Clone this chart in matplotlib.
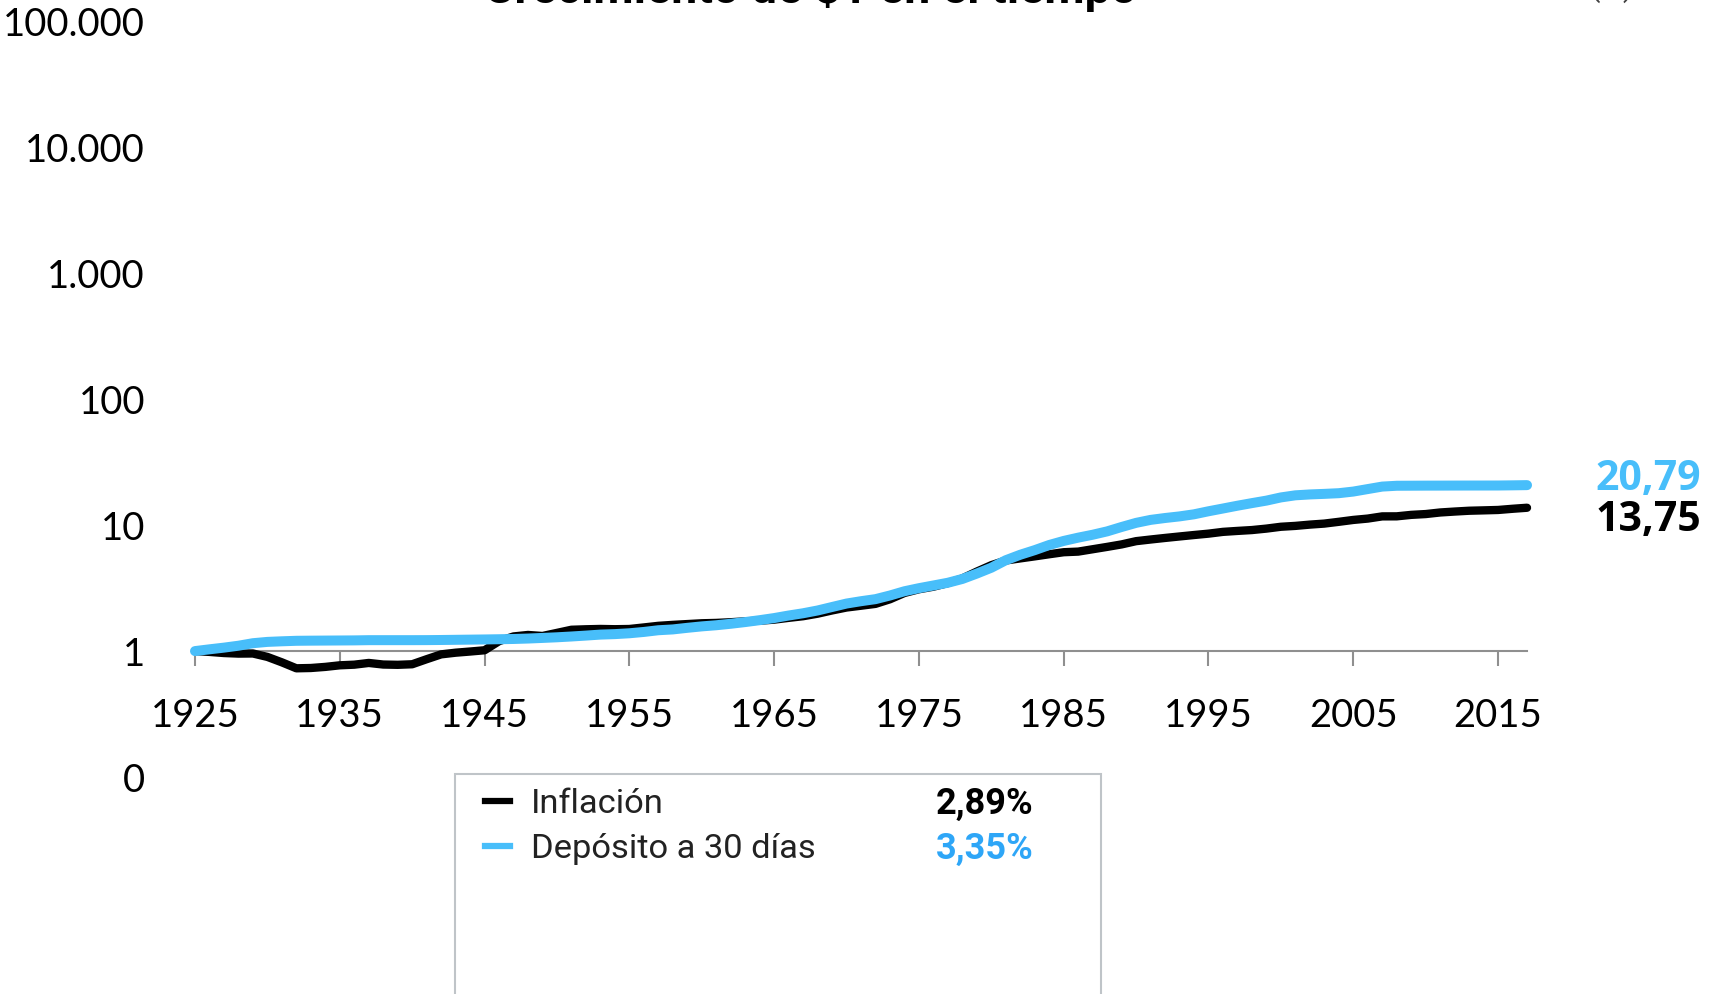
import matplotlib
matplotlib.use("Agg")
import matplotlib.pyplot as plt
from matplotlib.lines import Line2D
from matplotlib.patches import Rectangle
from matplotlib.ticker import FixedLocator, FixedFormatter

# datos: crecimiento de $1 (fin de cada año)
years = list(range(1925, 2018))
inflacion = [
    1.000, 0.985, 0.965, 0.955, 0.957, 0.899, 0.814, 0.730, 0.734, 0.749,
    0.771, 0.780, 0.805, 0.782, 0.778, 0.786, 0.862, 0.942, 0.971, 0.992,
    1.015, 1.199, 1.307, 1.343, 1.318, 1.395, 1.477, 1.490, 1.499, 1.492,
    1.498, 1.541, 1.587, 1.615, 1.639, 1.663, 1.674, 1.695, 1.723, 1.743,
    1.777, 1.836, 1.892, 1.981, 2.102, 2.218, 2.292, 2.371, 2.579, 2.894,
    3.097, 3.246, 3.466, 3.778, 4.281, 4.812, 5.242, 5.445, 5.652, 5.875,
    6.097, 6.166, 6.438, 6.722, 7.034, 7.464, 7.693, 7.916, 8.133, 8.351,
    8.563, 8.847, 9.002, 9.145, 9.390, 9.712, 9.867, 10.101, 10.292, 10.632,
    11.003, 11.279, 11.741, 11.751, 12.071, 12.251, 12.610, 12.826, 13.018, 13.108,
    13.203, 13.492, 13.75,
]
deposito = [
    1.000, 1.033, 1.065, 1.103, 1.155, 1.183, 1.196, 1.207, 1.210, 1.212,
    1.214, 1.216, 1.221, 1.221, 1.221, 1.221, 1.222, 1.225, 1.229, 1.233,
    1.237, 1.242, 1.248, 1.258, 1.272, 1.287, 1.306, 1.328, 1.352, 1.364,
    1.385, 1.419, 1.464, 1.486, 1.530, 1.571, 1.604, 1.648, 1.700, 1.760,
    1.829, 1.916, 1.997, 2.101, 2.239, 2.385, 2.490, 2.585, 2.764, 2.986,
    3.159, 3.319, 3.489, 3.740, 4.128, 4.592, 5.267, 5.822, 6.335, 6.959,
    7.496, 7.958, 8.393, 8.926, 9.673, 10.429, 11.012, 11.398, 11.739, 12.196,
    12.892, 13.560, 14.271, 14.967, 15.665, 16.607, 17.257, 17.539, 17.723, 17.943,
    18.484, 19.348, 20.249, 20.554, 20.576, 20.602, 20.612, 20.627, 20.636, 20.641,
    20.650, 20.714, 20.79,
]
series_names = ["Inflación", "Depósito a 30 días"]
series_rates = ["2,89%", "3,35%"]
end_labels = ["13,75", "20,79"]

x_ticks = list(range(1925, 2016, 10))
y_ticks = [0.1, 1, 10, 100, 1000, 10000, 100000]
y_labels = ["0", "1", "10", "100", "1.000", "10.000", "100.000"]

BLACK = "#000000"
BLUE = "#48BEFA"
BLUE_TXT = "#2EA6F7"
GREY = "#8F8F8F"

fig = plt.figure(figsize=(17.1, 9.94), dpi=100)
ax = fig.add_axes([0.11404, 0.2183, 0.77895, 0.7601])
ax.set_facecolor("none")

ax.plot(years, inflacion, color=BLACK, lw=6.0, solid_capstyle="round",
        solid_joinstyle="round", clip_on=False, zorder=3)
ax.plot(years, deposito, color=BLUE, lw=7.2, solid_capstyle="round",
        solid_joinstyle="round", clip_on=False, zorder=4)

ax.set_yscale("log")
ax.set_ylim(0.1, 100000)
ax.set_xlim(1925, 2017)

ax.yaxis.set_major_locator(FixedLocator(y_ticks))
ax.yaxis.set_major_formatter(FixedFormatter(y_labels))
ax.yaxis.set_minor_locator(FixedLocator([]))
ax.set_xticks(x_ticks)
ax.set_xticklabels([str(y) for y in x_ticks])

for s in ["top", "right", "left"]:
    ax.spines[s].set_visible(False)
ax.spines["bottom"].set_position(("data", 1))
ax.spines["bottom"].set_color(GREY)
ax.spines["bottom"].set_linewidth(1.5)

ax.tick_params(axis="y", length=0, pad=36, labelsize=27.5)
ax.tick_params(axis="x", direction="out", length=10.8, width=1.5, color=GREY,
               pad=23, labelsize=27.5)
for lab in ax.get_xticklabels() + ax.get_yticklabels():
    lab.set_family(["Lato", "DejaVu Sans"])

# etiquetas finales
ax.annotate(end_labels[1], xy=(years[-1], deposito[-1]), xytext=(49, 4),
            textcoords="offset points", va="center", ha="left", color=BLUE,
            fontsize=29.5, fontweight="bold", family=["Open Sans", "DejaVu Sans"])
ax.annotate(end_labels[0], xy=(years[-1], inflacion[-1]), xytext=(49, -9),
            textcoords="offset points", va="center", ha="left", color=BLACK,
            fontsize=29.5, fontweight="bold", family=["Open Sans", "DejaVu Sans"])

# título (cortado arriba)
fig.text(810 / 1710, 1 - 12 / 994, "Crecimiento de $1 en el tiempo", ha="center",
         va="bottom", fontsize=33.5, fontweight="bold", family=["Roboto", "DejaVu Sans"])
fig.text(1612 / 1710, 1 - 3 / 994, "(%)", ha="center", va="bottom", fontsize=22,
         color="#404040", family=["Roboto", "DejaVu Sans"])

# leyenda
W, H = 1710, 994
fig.patches.append(Rectangle((455 / W, -0.05), 646 / W, 0.05 + 1 - 774 / H,
                             transform=fig.transFigure, facecolor="white",
                             edgecolor="#BFC4C8", lw=1.5, zorder=5))
rows_y = [804, 849]
colors = [BLACK, BLUE]
val_colors = [BLACK, BLUE_TXT]
for i in range(2):
    yy = 1 - rows_y[i] / H
    fig.lines.append(Line2D([485 / W, 510 / W], [yy + 3 / H, yy + 3 / H],
                            transform=fig.transFigure, color=colors[i], lw=4.5,
                            zorder=6))
    fig.text(531 / W, yy, series_names[i], ha="left", va="center", fontsize=24.8,
             color="#222222", family=["Roboto", "DejaVu Sans"], zorder=6)
    fig.text(936 / W, yy, series_rates[i], ha="left", va="center", fontsize=26,
             fontweight="bold", color=val_colors[i],
             family=["Roboto", "DejaVu Sans"], zorder=6)

fig.savefig("out.png", dpi=100)
